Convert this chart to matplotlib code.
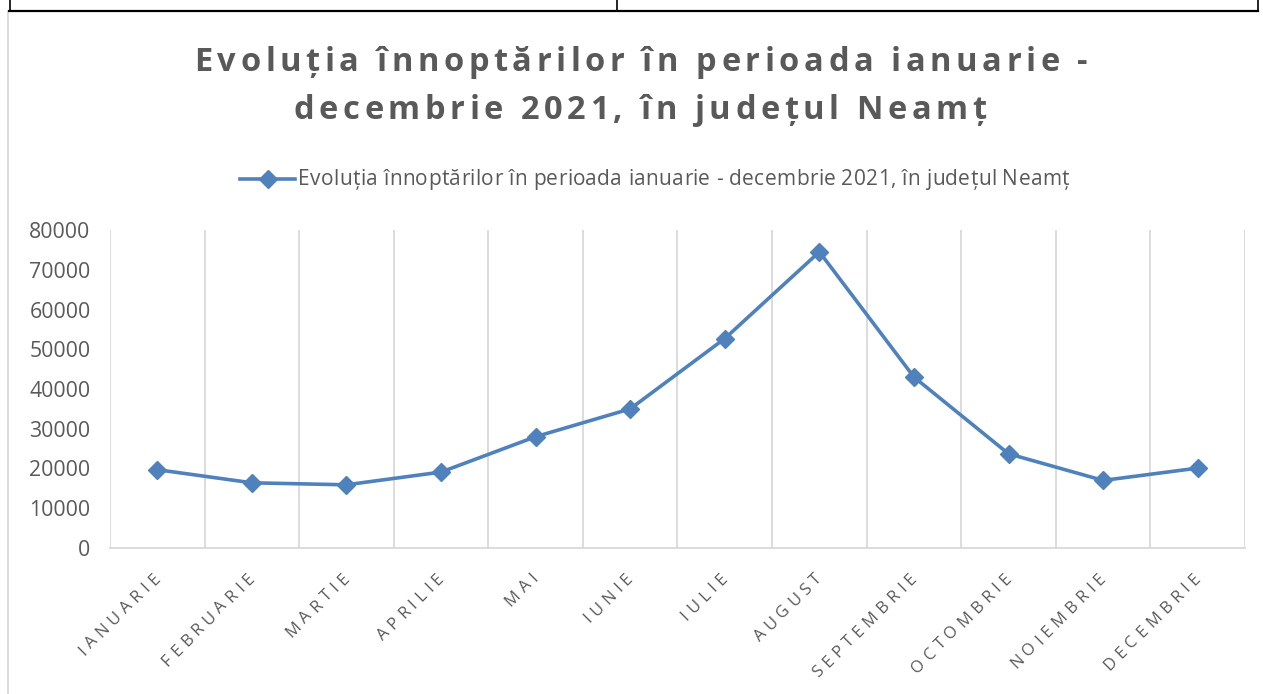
import matplotlib
matplotlib.use("Agg")
import matplotlib.pyplot as plt
from matplotlib.lines import Line2D
from matplotlib.font_manager import FontProperties
import numpy as np

months = ["IANUARIE", "FEBRUARIE", "MARTIE", "APRILIE", "MAI", "IUNIE", "IULIE",
          "AUGUST", "SEPTEMBRIE", "OCTOMBRIE", "NOIEMBRIE", "DECEMBRIE"]
values = [19700, 16400, 15900, 19100, 28000, 35000, 52700, 74500, 43000, 23700, 17000, 20100]
yticks = [0, 10000, 20000, 30000, 40000, 50000, 60000, 70000, 80000]
title1 = "Evoluția înnoptărilor în perioada ianuarie -"
title2 = "decembrie 2021, în județul Neamț"
series_name = "Evoluția înnoptărilor în perioada ianuarie - decembrie 2021, în județul Neamț"

W, H = 1263, 694
fig = plt.figure(figsize=(W / 100, H / 100), dpi=100)
fig.patch.set_facecolor("white")
renderer = fig.canvas.get_renderer()

blue = "#4F81BD"
txt = "#595959"
grid = "#D9D9D9"
font = ["Open Sans", "DejaVu Sans"]


def width_px(s, prop):
    if not s:
        return 0.0
    w, h, d = renderer.get_text_width_height_descent(s, prop, ismath=False)
    return w


def spaced_text(s, x0, y0, size, sp, angle=0.0, weight="normal"):
    """Draw string char by char from baseline start (x0, y0) in pixels (y up)."""
    prop = FontProperties(family=font, size=size, weight=weight)
    c, sn = np.cos(np.radians(angle)), np.sin(np.radians(angle))
    for i, ch in enumerate(s):
        d = width_px(s[:i], prop) + i * sp
        fig.text((x0 + d * c) / W, (y0 + d * sn) / H, ch, fontproperties=prop,
                 color=txt, ha="left", va="baseline", rotation=angle,
                 rotation_mode="anchor")


def spaced_len(s, size, sp, weight="normal"):
    prop = FontProperties(family=font, size=size, weight=weight)
    return width_px(s, prop) + (len(s) - 1) * sp


ax = fig.add_axes([110 / W, 1 - 548 / H, (1245 - 110) / W, (548 - 230) / H])
x = np.arange(len(months))
ax.plot(x, values, color=blue, lw=2.6, marker="D", markersize=9, zorder=3,
        solid_joinstyle="round")
ax.set_xlim(-0.5, len(months) - 0.5)
ax.set_ylim(0, 80000)
ax.set_yticks(yticks)
ax.set_yticklabels([str(v) for v in yticks], fontsize=15.3, color=txt, family=font)
ax.set_xticks(x)
ax.set_xticklabels([])
ax.set_xticks(np.arange(-0.5, len(months)), minor=True)
ax.tick_params(axis="x", which="both", length=0)
ax.tick_params(axis="y", length=0, pad=14)
ax.grid(axis="x", which="minor", color=grid, lw=1.3)
ax.grid(axis="x", which="major", visible=False)
for s in ["top", "right", "left"]:
    ax.spines[s].set_visible(False)
ax.spines["bottom"].set_color(grid)
ax.spines["bottom"].set_linewidth(1.3)

# rotated, letter-spaced category labels
tick_size = 12.0
tick_sp = 4.8
ang = 45.0
cap = tick_size * 100 / 72 * 0.714
u = np.array([np.cos(np.radians(ang)), np.sin(np.radians(ang))])
perp = np.array([-u[1], u[0]])
for i, m in enumerate(months):
    px, py = ax.transData.transform((i, 0))
    mid_end = np.array([px - 1, py - 27])
    base_end = mid_end - perp * cap / 2
    L = spaced_len(m, tick_size, tick_sp)
    start = base_end - u * L
    spaced_text(m, start[0], start[1], tick_size, tick_sp, angle=ang)

# title, letter spaced
t_size = 23.5
t_sp = 4.6
for line, cx, base in [(title1, 641, 71), (title2, 640, 119)]:
    L = spaced_len(line, t_size, t_sp, "bold")
    spaced_text(line, cx - L / 2, H - base, t_size, t_sp, weight="bold")

# legend
ly = 1 - 179 / H
fig.add_artist(Line2D([240 / W, 295 / W], [ly, ly], color=blue, lw=2.6,
                      transform=fig.transFigure))
fig.add_artist(Line2D([267.5 / W], [ly], color=blue, marker="D", markersize=9,
                      transform=fig.transFigure))
spaced_text(series_name, 298, H - 185, 15.0, 0.35)

# chart border and table lines
fig.add_artist(Line2D([8 / W, 8 / W], [0, 1 - 12 / H], color=grid, lw=1.3,
                      transform=fig.transFigure))
fig.add_artist(Line2D([9 / W, 1258 / W], [1 - 11 / H, 1 - 11 / H], color="black", lw=1.6,
                      transform=fig.transFigure))
for xv in [10, 617, 1258]:
    fig.add_artist(Line2D([xv / W, xv / W], [1 - 11 / H, 1], color="black", lw=1.2,
                          transform=fig.transFigure))

fig.savefig("out.png", dpi=100, facecolor="white")
